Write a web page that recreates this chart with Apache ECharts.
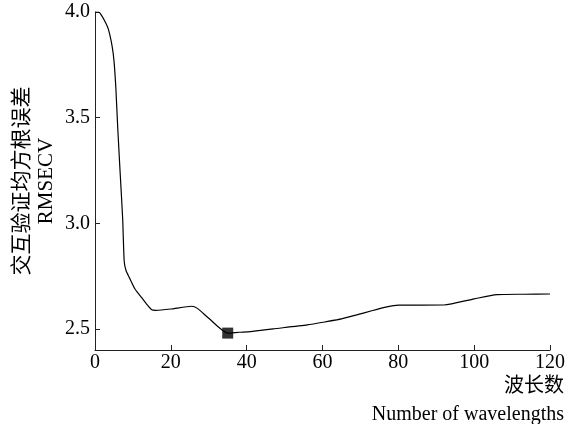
<!DOCTYPE html>
<html>
<head>
<meta charset="utf-8">
<script src="https://cdn.jsdelivr.net/npm/echarts@6/dist/echarts.min.js"></script>
<style>
html,body{margin:0;padding:0;background:#fff;}
#chart{width:582px;height:424px;}
</style>
</head>
<body>
<div id="chart"></div>
<script>
// Data
const wavelengths = [0, 1, 1.5, 2.5, 3.5, 4.5, 5, 5.5, 6, 6.6, 7.3, 7.7, 8.2, 9, 10.5, 12, 13.5, 15, 16, 20, 25.5, 27, 30, 35, 38, 41, 47, 56, 61, 65, 69, 73, 77, 80, 92, 100, 106, 113, 120];
const rmsecv =      [4.00, 4.00, 3.99, 3.96, 3.92, 3.84, 3.77, 3.64, 3.45, 3.25, 3.02, 2.82, 2.775, 2.745, 2.69, 2.655, 2.62, 2.59, 2.588, 2.594, 2.607, 2.597, 2.55, 2.48, 2.484, 2.487, 2.50, 2.519, 2.534, 2.547, 2.566, 2.586, 2.604, 2.612, 2.613, 2.642, 2.662, 2.664, 2.665];
const optimum = [35, 2.48];
const yTicks = [2.5, 3.0, 3.5, 4.0];
const xTicks = [0, 20, 40, 60, 80, 100, 120];
const yName = '交互验证均方根误差\nRMSECV';
const xNameCn = '波长数';
const xNameEn = 'Number of wavelengths';

const font = '"Liberation Serif", "Noto Sans CJK SC", serif';
const chart = echarts.init(document.getElementById('chart'), null, {renderer: 'canvas'});
const axisColor = '#222';
chart.setOption({
  animation: false,
  backgroundColor: '#fff',
  grid: {left: 95, top: 12, right: 32, bottom: 74, containLabel: false, outerBoundsMode: 'none'},
  graphic: [
    {type: 'text', right: 18, top: 377, style: {text: xNameCn, fill: '#000', font: '20px ' + font}},
    {type: 'text', right: 18, top: 405, style: {text: xNameEn, fill: '#000', font: '20px ' + font}}
  ],
  xAxis: {
    type: 'value',
    min: xTicks[0], max: xTicks[xTicks.length - 1], interval: 20,
    axisLine: {lineStyle: {color: axisColor, width: 1}},
    axisTick: {inside: true, length: 5, lineStyle: {color: axisColor}},
    axisLabel: {color: '#000', fontSize: 20, fontFamily: font, margin: 3},
    splitLine: {show: false}
  },
  yAxis: {
    type: 'value',
    min: 2.4, max: 4.0,
    axisLine: {show: true, lineStyle: {color: axisColor, width: 1}},
    axisTick: {show: true, inside: true, length: 5, customValues: yTicks, lineStyle: {color: axisColor}},
    axisLabel: {color: '#000', fontSize: 20, fontFamily: font, margin: 5, customValues: yTicks, formatter: v => v.toFixed(1)},
    splitLine: {show: false},
    name: yName,
    nameLocation: 'middle',
    nameRotate: 90,
    nameGap: 37,
    nameMoveOverlap: false,
    nameTextStyle: {color: '#000', fontSize: 21, fontFamily: font, lineHeight: 24}
  },
  series: [
    {
      type: 'line',
      data: wavelengths.map((w, i) => [w, rmsecv[i]]),
      showSymbol: false,
      smooth: 0.2,
      lineStyle: {color: '#000', width: 1.2},
      z: 2
    },
    {
      type: 'scatter',
      data: [optimum],
      symbol: 'rect',
      symbolSize: 11,
      itemStyle: {color: '#000'},
      z: 3
    }
  ]
});
</script>
</body>
</html>
